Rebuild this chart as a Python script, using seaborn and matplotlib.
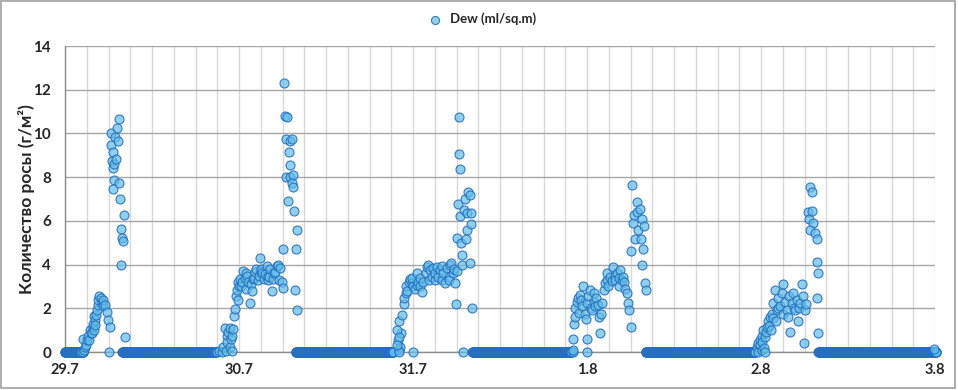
import numpy as np
import pandas as pd
import seaborn as sns
import matplotlib.pyplot as plt
from matplotlib.patches import Rectangle

# x axis: hours from 29.7 00:00, one label per day
day_labels = ["29.7", "30.7", "31.7", "1.8", "2.8", "3.8"]

# dry periods (dew = 0), logger writes every 2 minutes
dry_spans = [(0.0, 2.5), (7.9, 20.8), (31.8, 45.3), (56.2, 69.8), (80.1, 95.2), (103.9, 120.2)]
log_step = 1 / 30

# (hour, dew) readings during each dew night
night1 = [(2.2, 0.0), (2.5, 0.0), (2.6, 0.1), (2.45, 0.6), (2.8, 0.25), (2.9, 0.3), (3.0, 0.55),
          (3.2, 0.75), (3.35, 0.55), (3.45, 1.0), (3.55, 0.85), (3.7, 0.85), (3.8, 1.15), (3.9, 1.3),
          (4.0, 1.0), (4.05, 1.65), (4.15, 1.45), (4.2, 1.25), (4.3, 1.7), (4.4, 1.9), (4.5, 2.15),
          (4.6, 2.4), (4.75, 2.55), (4.9, 2.45), (5.05, 2.25), (5.2, 2.1), (5.3, 2.4), (5.5, 2.15),
          (5.75, 1.85), (5.95, 1.45), (6.1, 0.0), (6.2, 1.15),
          (6.3, 10.0), (6.4, 9.45), (6.55, 8.75), (6.6, 8.4), (6.65, 9.15), (6.7, 7.85), (6.6, 7.45),
          (6.75, 8.6), (6.9, 9.85), (7.1, 8.85), (7.2, 10.25), (7.35, 9.65), (7.4, 10.65), (7.5, 7.75),
          (7.6, 7.0), (7.7, 4.0), (7.75, 5.65), (7.85, 5.2), (8.05, 5.1), (8.2, 6.25), (8.25, 0.7)]

night2 = [(20.9, 0.0), (21.3, 0.05), (21.6, 0.0), (21.8, 0.25), (22.1, 1.1), (22.2, 0.05), (22.3, 0.75),
          (22.4, 0.45), (22.5, 0.9), (22.7, 0.25), (22.8, 1.1), (22.9, 0.6), (23.0, 0.05), (23.1, 0.75),
          (23.2, 1.05), (23.3, 1.65), (23.45, 1.95), (23.6, 2.55), (23.7, 2.85), (23.8, 2.4), (23.9, 3.2),
          (24.05, 3.0), (24.1, 3.35), (24.3, 3.0), (24.4, 3.2), (24.6, 3.7), (24.8, 3.4), (24.9, 2.9),
          (25.0, 3.6), (25.1, 3.5), (25.3, 3.2), (25.5, 2.25), (25.6, 3.1), (25.75, 2.8), (25.9, 3.35),
          (26.0, 3.4), (26.2, 3.65), (26.4, 3.8), (26.6, 3.3), (26.7, 3.5), (26.9, 4.3), (27.0, 3.7),
          (27.1, 3.8), (27.2, 3.6), (27.4, 3.35), (27.6, 3.55), (27.8, 3.95), (28.0, 3.3), (28.05, 3.5),
          (28.2, 3.45), (28.3, 3.8), (28.5, 2.8), (28.7, 3.35), (28.8, 3.6), (29.0, 3.65), (29.2, 3.95),
          (29.4, 4.0), (29.5, 3.3), (29.65, 3.85), (29.9, 3.2), (30.0, 2.95), (30.1, 4.7),
          (30.2, 12.3), (30.4, 10.8), (30.6, 10.75), (30.5, 9.75), (31.0, 9.65), (31.3, 9.75), (30.9, 9.15),
          (31.0, 8.55), (30.5, 8.0), (31.05, 8.0), (31.4, 8.1), (31.3, 7.75), (31.5, 7.55), (30.7, 6.9),
          (31.6, 6.45), (32.0, 5.6), (31.9, 4.7), (31.7, 2.85), (32.05, 1.9)]

night3 = [(46.0, 0.1), (46.2, 0.25), (45.9, 0.55), (46.4, 0.85), (45.75, 1.0), (46.1, 0.7), (46.0, 1.4),
          (46.5, 1.7), (48.05, 0.0), (46.0, 0.0), (45.85, 0.3),
          (46.7, 2.2), (46.8, 2.45), (47.0, 2.7), (47.1, 3.0), (47.2, 2.8), (47.4, 3.2), (47.6, 3.35),
          (47.8, 3.15), (47.9, 3.4), (48.05, 3.0), (48.3, 2.9), (48.5, 3.05), (48.6, 3.6), (48.7, 3.2),
          (48.95, 3.0), (49.0, 3.4), (49.2, 2.75), (49.4, 3.2), (49.75, 3.6), (49.9, 3.9), (50.1, 4.0),
          (50.2, 3.3), (50.35, 3.75), (50.6, 3.45), (50.8, 3.85), (51.0, 3.3), (51.1, 3.6), (51.25, 3.9),
          (51.5, 3.45), (51.7, 3.75), (51.95, 3.3), (52.0, 3.95), (52.2, 3.6), (52.4, 3.15), (52.65, 3.85),
          (52.9, 3.45), (53.0, 3.3), (53.1, 4.0), (53.3, 4.05), (53.55, 3.6), (53.6, 3.8), (53.8, 3.15),
          (53.9, 2.2), (54.0, 5.2), (54.1, 3.7), (54.2, 6.75), (54.3, 10.75), (54.35, 9.05), (54.5, 8.35),
          (54.5, 6.2), (54.6, 5.0), (54.7, 4.45), (54.8, 4.0), (54.9, 0.0), (55.1, 6.5), (55.2, 7.0),
          (55.3, 5.15), (55.4, 5.6), (55.5, 6.35), (55.6, 7.3), (55.9, 7.2), (56.0, 6.35), (56.0, 5.85),
          (55.85, 4.05), (56.1, 2.0)]

night4 = [(70.0, 0.0), (70.1, 0.1), (71.95, 0.0), (70.1, 0.6), (72.05, 0.6), (70.2, 1.3), (70.35, 1.6),
          (70.4, 2.0), (70.6, 2.3), (70.8, 2.45), (70.9, 1.8), (71.0, 2.6), (71.2, 2.4), (71.3, 2.1),
          (71.5, 3.0), (71.7, 1.75), (71.9, 1.5), (72.0, 2.25), (72.2, 2.55), (72.4, 2.85), (72.5, 2.0),
          (72.65, 1.9), (72.9, 2.3), (73.0, 2.7), (73.1, 2.1), (73.3, 2.45), (73.5, 2.15), (73.6, 1.6),
          (73.8, 0.85), (73.9, 1.75), (74.0, 2.25), (74.3, 2.85), (74.5, 3.15), (74.7, 3.3), (74.8, 3.6),
          (74.95, 3.0), (75.2, 3.45), (75.4, 3.25), (75.6, 3.9), (75.8, 3.5), (75.9, 3.3), (76.1, 3.6),
          (76.35, 3.0), (76.4, 3.4), (76.6, 3.75), (76.8, 3.3), (77.0, 3.45), (77.1, 3.2), (77.25, 2.9),
          (77.5, 2.7), (77.7, 2.25), (77.85, 1.9), (78.0, 1.15), (78.0, 4.6), (78.2, 7.65), (78.3, 5.9),
          (78.5, 6.25), (78.6, 5.15), (78.85, 6.85), (78.95, 6.4), (79.1, 5.6), (79.3, 6.55), (79.4, 5.15),
          (79.55, 6.1), (79.7, 4.7), (79.8, 5.75), (79.55, 4.0), (80.0, 3.15), (80.15, 2.85)]

night5 = [(95.2, 0.0), (95.4, 0.25), (95.6, 0.4), (95.6, 0.0), (95.85, 0.55), (95.9, 0.3), (96.1, 0.75),
          (96.1, 0.1), (96.2, 0.45), (96.3, 1.0), (96.4, 0.2), (96.55, 0.7), (96.55, 0.0), (96.7, 0.9),
          (96.8, 1.15), (97.0, 1.4), (97.1, 1.2), (97.25, 1.6), (97.4, 1.0), (97.45, 1.75), (97.7, 2.25),
          (97.7, 1.55), (97.9, 2.85), (98.0, 1.4), (98.15, 1.9), (98.3, 2.0), (98.4, 2.45), (98.6, 2.1),
          (98.85, 2.7), (99.0, 3.1), (99.1, 1.75), (99.3, 2.3), (99.55, 1.9), (99.7, 1.6), (99.8, 2.55),
          (100.0, 0.9), (100.25, 2.25), (100.45, 2.7), (100.6, 2.0), (100.7, 1.9), (100.9, 2.4),
          (101.15, 1.4), (101.2, 2.0), (101.4, 2.25), (101.6, 3.1), (101.85, 2.55), (102.05, 1.9),
          (101.9, 0.4), (102.2, 2.2), (102.5, 6.4), (102.75, 7.55), (103.0, 7.3), (102.65, 6.1),
          (103.0, 6.45), (103.2, 5.9), (102.75, 5.6), (103.45, 5.45), (103.7, 5.15), (103.7, 4.1),
          (103.9, 3.6), (103.7, 2.45), (103.8, 0.85), (119.8, 0.15)]

# build one table
frames = []
for start, end in dry_spans:
    t = np.arange(start, end + 1e-9, log_step)
    frames.append(pd.DataFrame({"hours": t, "dew": 0.0}))
for night in [night1, night2, night3, night4, night5]:
    frames.append(pd.DataFrame(night, columns=["hours", "dew"]))
df = pd.concat(frames, ignore_index=True)

sns.set_style("white")
plt.rcParams["font.family"] = ["Lato", "Noto Sans", "DejaVu Sans"]

fig = plt.figure(figsize=(9.58, 3.90), dpi=100)
ax = fig.add_axes([65 / 958, 38 / 390, 870 / 958, 306 / 390])

sns.scatterplot(data=df, x="hours", y="dew", s=42, color="#5BB5E5",
                edgecolor="#2369BD", linewidth=0.8, ax=ax, clip_on=False,
                zorder=3, label="Dew (ml/sq.m)", legend=False)
pts = ax.collections[0]
pts.set_facecolor((0.38, 0.74, 0.91, 0.7))
pts.set_edgecolor((0.15, 0.43, 0.75, 0.9))

ax.set_xlim(0, 120)
ax.set_ylim(0, 14)
ax.set_xticks(np.arange(0, 121, 24))
ax.set_xticks(np.arange(0, 121, 3), minor=True)
ax.set_xticklabels(day_labels, fontweight="bold", fontsize=10.5)
ax.set_yticks(range(0, 15, 2))
ax.set_yticklabels([str(v) for v in range(0, 15, 2)], fontweight="bold", fontsize=11)
ax.tick_params(which="both", length=0)
ax.tick_params(axis="y", pad=10)
ax.tick_params(axis="x", pad=8)

ax.grid(axis="x", which="both", color="#D9D9D9", lw=1)
ax.grid(axis="y", which="major", color="#A6A6A6", lw=1)
ax.set_axisbelow(True)
for side in ["top", "right"]:
    ax.spines[side].set_visible(False)
for side in ["left", "bottom"]:
    ax.spines[side].set_color("#8C8C8C")
    ax.spines[side].set_linewidth(1)

ax.set_xlabel("")
ax.set_ylabel("Количество росы (г/м²)", fontweight="bold", fontsize=12.5)
ax.yaxis.set_label_coords(-0.035, 0.5)

ax.legend(loc="center", bbox_to_anchor=(0.5, 0.951), bbox_transform=fig.transFigure,
          frameon=False, prop={"weight": "bold", "size": 9.5},
          handletextpad=0.2, markerscale=0.9)

fig.patches.append(Rectangle((0.001, 0.004), 0.996, 0.993, transform=fig.transFigure,
                             fill=False, edgecolor="#A0A0A0", lw=1.2))

fig.savefig("out.png", dpi=100)
